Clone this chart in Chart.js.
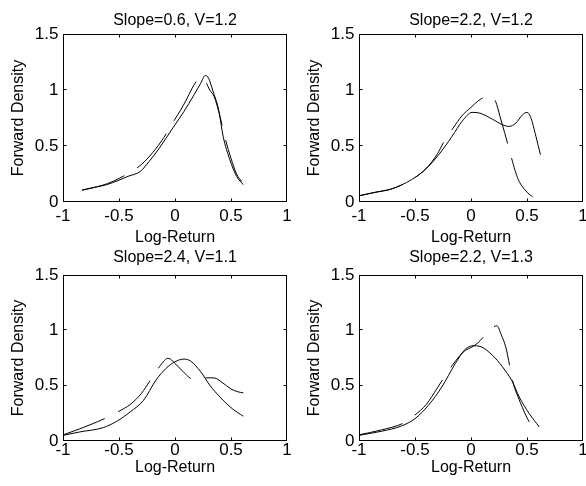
<!DOCTYPE html>
<html><head><meta charset="utf-8">
<script src="https://cdn.jsdelivr.net/npm/chart.js@4.4.1/dist/chart.umd.min.js"></script>
<style>
html,body{margin:0;padding:0;background:#fff;}
#wrap{position:relative;width:586px;height:486px;overflow:hidden;background:#fff;}
canvas{position:absolute;}
</style>
</head><body><div id="wrap"></div>
<script>
// ---------- data ----------
const xTicks = [-1, -0.5, 0, 0.5, 1];
const yTicks = [0, 0.5, 1, 1.5];
const xLabel = 'Log-Return';
const yLabel = 'Forward Density';
const panelTitles = ['Slope=0.6, V=1.2', 'Slope=2.2, V=1.2', 'Slope=2.4, V=1.1', 'Slope=2.2, V=1.3'];

// Panel A (top-left)
const aSolidX = [-0.83,-0.7,-0.61,-0.5,-0.42,-0.31,-0.23,-0.14,-0.02,0.08,0.17,0.23,0.27,0.3,0.34,0.39,0.43,0.49,0.55,0.61];
const aSolidY = [0.107,0.135,0.155,0.195,0.229,0.273,0.363,0.481,0.66,0.808,0.957,1.061,1.129,1.105,0.987,0.823,0.585,0.377,0.229,0.155];
const aDashX = [-0.83,-0.7,-0.6,-0.5,-0.42,-0.3,-0.2,-0.1,-0.06,0,0.05,0.1,0.15,0.2,0.23,0.27,0.31,0.35,0.4,0.45,0.5,0.55,0.61];
const aDashY = [0.105,0.135,0.165,0.21,0.253,0.335,0.44,0.575,0.64,0.74,0.82,0.91,1.01,1.09,1.11,1.08,1.0,0.94,0.77,0.56,0.39,0.25,0.165];

// Panel B (top-right)
const bSolidX = [-1,-0.86,-0.71,-0.53,-0.41,-0.29,-0.17,-0.08,0.01,0.08,0.19,0.28,0.34,0.4,0.46,0.5,0.53,0.58,0.62];
const bSolidY = [0.056,0.086,0.116,0.2,0.288,0.42,0.585,0.72,0.8,0.793,0.74,0.69,0.675,0.704,0.779,0.8,0.764,0.585,0.422];
const bDashX = [-1,-0.86,-0.7,-0.53,-0.4,-0.3,-0.24,-0.16,-0.08,0,0.06,0.13,0.17,0.22,0.26,0.3,0.33,0.37,0.4,0.43,0.48,0.53,0.58];
const bDashY = [0.055,0.085,0.12,0.2,0.3,0.43,0.54,0.66,0.77,0.845,0.9,0.942,0.95,0.897,0.76,0.62,0.511,0.363,0.26,0.184,0.11,0.06,0.036];

// Panel C (bottom-left)
const cSolidX = [-1,-0.85,-0.64,-0.52,-0.4,-0.28,-0.17,-0.08,0,0.08,0.14,0.23,0.31,0.4,0.51,0.61];
const cSolidY = [0.051,0.082,0.121,0.178,0.263,0.369,0.55,0.656,0.716,0.74,0.722,0.625,0.505,0.399,0.293,0.224];
const cDashX = [-1,-0.85,-0.75,-0.63,-0.56,-0.5,-0.4,-0.3,-0.22,-0.18,-0.14,-0.1,-0.07,-0.04,0,0.07,0.14,0.2,0.28,0.35,0.42,0.5,0.56,0.61];
const cDashY = [0.055,0.11,0.15,0.202,0.24,0.269,0.33,0.43,0.55,0.61,0.67,0.72,0.746,0.74,0.7,0.63,0.565,0.55,0.571,0.57,0.53,0.47,0.445,0.435];

// Panel D (bottom-right)
const dSolidX = [-1,-0.8,-0.62,-0.5,-0.38,-0.26,-0.14,-0.05,0.02,0.08,0.19,0.28,0.37,0.43,0.52,0.61];
const dSolidY = [0.051,0.088,0.136,0.202,0.323,0.489,0.7,0.83,0.861,0.855,0.776,0.671,0.535,0.399,0.248,0.127];
const dDashX = [-1,-0.8,-0.6,-0.5,-0.4,-0.3,-0.25,-0.17,-0.1,-0.05,0,0.06,0.12,0.17,0.23,0.27,0.31,0.35,0.38,0.42,0.46,0.5,0.54];
const dDashY = [0.056,0.1,0.163,0.235,0.33,0.48,0.559,0.68,0.77,0.82,0.845,0.885,0.949,1.0,1.042,0.96,0.85,0.656,0.51,0.4,0.3,0.21,0.136];

// ---------- layout / style ----------
const FONT = "'Liberation Sans', Arial, Helvetica, sans-serif";
const TICK = 3;
const panels = [
  {sx:aSolidX, sy:aSolidY, dx:aDashX, dy:aDashY, cx:0,   cy:0,   w:293, h:256, area:{l:63,t:34,r:287,b:202}, tickPad:3.8,  titleBase:24.5, yTitlePad:9.4},
  {sx:bSolidX, sy:bSolidY, dx:bDashX, dy:bDashY, cx:293, cy:0,   w:293, h:256, area:{l:66,t:34,r:290,b:202}, tickPad:3.8,  titleBase:24.5, yTitlePad:12.4},
  {sx:cSolidX, sy:cSolidY, dx:cDashX, dy:cDashY, cx:0,   cy:243, w:293, h:243, area:{l:63,t:32,r:287,b:198}, tickPad:-0.5, titleBase:18.5, yTitlePad:9.4},
  {sx:dSolidX, sy:dSolidY, dx:dDashX, dy:dDashY, cx:293, cy:243, w:293, h:243, area:{l:66,t:32,r:290,b:198}, tickPad:-0.5, titleBase:18.5, yTitlePad:12.4}
];

const clamp = (v, lo, hi) => Math.min(hi, Math.max(lo, v));

const boxPlugin = {
  id: 'matlabBox',
  afterDraw(chart, args, opts) {
    const {ctx, chartArea: a, scales: {x, y}} = chart;
    ctx.save();
    ctx.strokeStyle = '#000';
    ctx.lineWidth = 1;
    const L = Math.round(a.left) + 0.5, R = Math.round(a.right) - 0.5;
    const T = Math.round(a.top) + 0.5, B = Math.round(a.bottom) - 0.5;
    ctx.strokeRect(L, T, R - L, B - T);
    ctx.beginPath();
    xTicks.forEach(v => {
      const px = clamp(Math.round(x.getPixelForValue(v)) + 0.5, L, R);
      ctx.moveTo(px, B); ctx.lineTo(px, B - TICK);
      ctx.moveTo(px, T); ctx.lineTo(px, T + TICK);
    });
    yTicks.forEach(v => {
      const py = clamp(Math.round(y.getPixelForValue(v)) - 0.5, T, B);
      ctx.moveTo(L, py); ctx.lineTo(L + TICK, py);
      ctx.moveTo(R, py); ctx.lineTo(R - TICK, py);
    });
    ctx.stroke();
    ctx.fillStyle = '#000';
    ctx.font = '16px ' + FONT;
    ctx.textAlign = 'center';
    ctx.textBaseline = 'alphabetic';
    ctx.fillText(opts.text, (a.left + a.right) / 2, opts.baseline);
    ctx.restore();
  }
};

const wrap = document.getElementById('wrap');
panels.forEach((p, i) => {
  const cv = document.createElement('canvas');
  cv.width = p.w; cv.height = p.h;
  cv.style.left = p.cx + 'px'; cv.style.top = p.cy + 'px';
  cv.style.width = p.w + 'px'; cv.style.height = p.h + 'px';
  wrap.appendChild(cv);
  const solid = p.sx.map((v, k) => ({x: v, y: p.sy[k]}));
  const dashed = p.dx.map((v, k) => ({x: v, y: p.dy[k]}));
  new Chart(cv, {
    type: 'line',
    data: {
      datasets: [
        {data: solid, borderColor: '#000', borderWidth: 1, pointRadius: 0, fill: false, cubicInterpolationMode: 'monotone'},
        {data: dashed, borderColor: '#000', borderWidth: 1, pointRadius: 0, fill: false, cubicInterpolationMode: 'monotone', borderDash: [45, 15]}
      ]
    },
    options: {
      responsive: false,
      animation: false,
      devicePixelRatio: 1,
      layout: {padding: {top: p.area.t, right: p.w - p.area.r, left: 0, bottom: 0}},
      plugins: {
        legend: {display: false},
        tooltip: {enabled: false},
        title: {display: false},
        matlabBox: {text: panelTitles[i], baseline: p.titleBase}
      },
      scales: {
        x: {
          type: 'linear', min: -1, max: 1,
          grid: {display: false, drawTicks: false},
          border: {display: false},
          ticks: {padding: p.tickPad, color: '#000', font: {family: FONT, size: 17}, autoSkip: false, maxRotation: 0, minRotation: 0,
                  callback: v => String(v)},
          title: {display: true, text: xLabel, color: '#000', font: {family: FONT, size: 16}, padding: {top: 0, bottom: 8.9}},
          afterBuildTicks: s => { s.ticks = xTicks.map(v => ({value: v})); },
          afterFit: s => { s.height = p.h - p.area.b; s.paddingLeft = 0; s.paddingRight = 0; }
        },
        y: {
          type: 'linear', min: 0, max: 1.5,
          grid: {display: false, drawTicks: false},
          border: {display: false},
          ticks: {padding: 4.5, color: '#000', font: {family: FONT, size: 17}, autoSkip: false,
                  callback: v => String(v)},
          title: {display: true, text: yLabel, color: '#000', font: {family: FONT, size: 16}, padding: {top: p.yTitlePad, bottom: 0}},
          afterBuildTicks: s => { s.ticks = yTicks.map(v => ({value: v})); },
          afterFit: s => { s.width = p.area.l; s.paddingTop = 0; s.paddingBottom = 0; }
        }
      }
    },
    plugins: [boxPlugin]
  });
});
</script>
</body></html>
